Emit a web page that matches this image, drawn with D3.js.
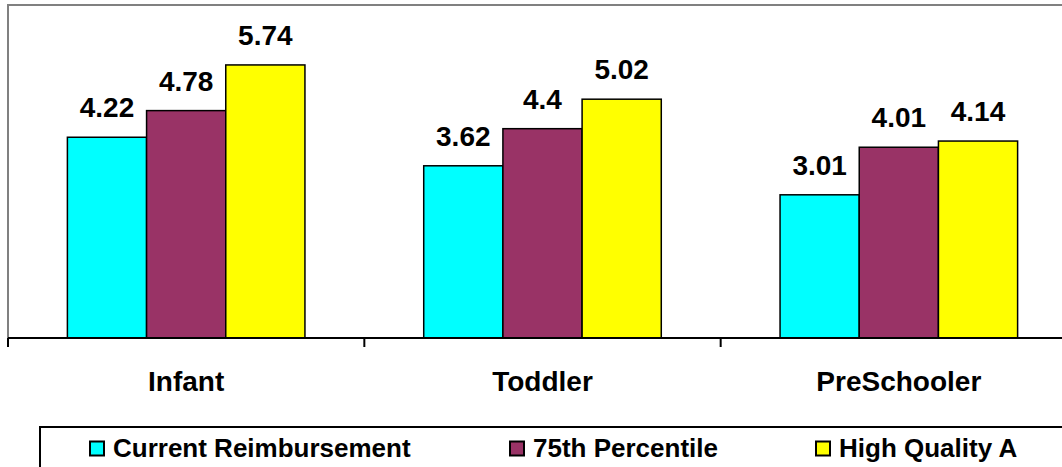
<!DOCTYPE html>
<html>
<head>
<meta charset="utf-8">
<script src="https://cdn.jsdelivr.net/npm/d3@7"></script>
<style>
  html, body { margin: 0; padding: 0; background: #fff; overflow: hidden; }
  svg { display: block; font-family: "Liberation Sans", Arial, sans-serif; font-weight: bold; }
</style>
</head>
<body>
<svg id="chart" width="1062" height="467"></svg>
<script>
// Hourly rates by age group
const categories = ["Infant", "Toddler", "PreSchooler"];
const seriesNames = ["Current Reimbursement", "75th Percentile", "High Quality A"];
const currentReimbursement = [4.22, 3.62, 3.01];
const percentile75 = [4.78, 4.4, 4.01];
const highQualityA = [5.74, 5.02, 4.14];
const seriesColors = ["#00FFFF", "#993366", "#FFFF00"];

const seriesValues = [currentReimbursement, percentile75, highQualityA];
const rows = categories.map((c, i) => ({
  category: c,
  values: seriesNames.map((s, j) => ({ series: s, value: seriesValues[j][i], color: seriesColors[j] }))
}));

const svg = d3.select("#chart");

const plot = { left: 8, right: 1077, top: 5, bottom: 338 };

const x0 = d3.scaleBand().domain(categories).range([plot.left, plot.right]).padding(0);
const x1 = d3.scaleBand().domain(seriesNames).range([0, x0.bandwidth()])
  .paddingInner(0).paddingOuter(0.75);
const y = d3.scaleLinear().domain([0, 7]).range([plot.bottom, plot.top]);

// plot area frame (grey, top and left visible)
svg.append("path")
  .attr("d", `M${plot.left},${plot.bottom} V${plot.top} H${plot.right}`)
  .attr("fill", "none")
  .attr("stroke", "#808080")
  .attr("stroke-width", 2);

// bars
const groups = svg.append("g").selectAll("g")
  .data(rows).join("g")
  .attr("transform", d => `translate(${x0(d.category)},0)`);

groups.selectAll("rect")
  .data(d => d.values).join("rect")
  .attr("x", d => x1(d.series))
  .attr("y", d => y(d.value))
  .attr("width", x1.bandwidth())
  .attr("height", d => y(0) - y(d.value))
  .attr("fill", d => d.color)
  .attr("stroke", "#000")
  .attr("stroke-width", 1.5);

// value labels
groups.selectAll("text")
  .data(d => d.values).join("text")
  .attr("x", d => x1(d.series) + x1.bandwidth() / 2)
  .attr("y", d => y(d.value) - 20)
  .attr("text-anchor", "middle")
  .attr("font-size", 28)
  .attr("fill", "#000")
  .text(d => d.value);

// category axis
const xAxis = d3.axisBottom(x0).tickSize(0).tickFormat("");
const axisG = svg.append("g")
  .attr("transform", `translate(0,${plot.bottom})`)
  .call(xAxis);
axisG.select(".domain").attr("stroke", "#000").attr("stroke-width", 2)
  .attr("d", `M${plot.left},0H${plot.right}`);

// tick marks between categories
const tickPositions = categories.map(c => x0(c)).concat([x0(categories[categories.length - 1]) + x0.bandwidth()]);
axisG.selectAll(".sep")
  .data(tickPositions).join("line")
  .attr("class", "sep")
  .attr("x1", d => d).attr("x2", d => d)
  .attr("y1", 0).attr("y2", 9)
  .attr("stroke", "#000").attr("stroke-width", 2);

axisG.selectAll(".cat")
  .data(categories).join("text")
  .attr("class", "cat")
  .attr("x", d => x0(d) + x0.bandwidth() / 2)
  .attr("y", 52.7)
  .attr("text-anchor", "middle")
  .attr("font-size", 28)
  .attr("fill", "#000")
  .text(d => d);

// legend
const legend = svg.append("g");
legend.append("rect")
  .attr("x", 40).attr("y", 427)
  .attr("width", 1100).attr("height", 100)
  .attr("fill", "#fff")
  .attr("stroke", "#000")
  .attr("stroke-width", 2);

const legendX = [90, 510, 816];
const items = legend.selectAll("g.item")
  .data(seriesNames).join("g")
  .attr("class", "item")
  .attr("transform", (d, i) => `translate(${legendX[i]},441.5)`);

items.append("rect")
  .attr("x", 0).attr("y", 0)
  .attr("width", 14).attr("height", 14)
  .attr("fill", (d, i) => seriesColors[i])
  .attr("stroke", "#000")
  .attr("stroke-width", 2);

items.append("text")
  .attr("x", 23)
  .attr("y", 15.5)
  .attr("font-size", 26)
  .attr("fill", "#000")
  .text(d => d);
</script>
</body>
</html>
